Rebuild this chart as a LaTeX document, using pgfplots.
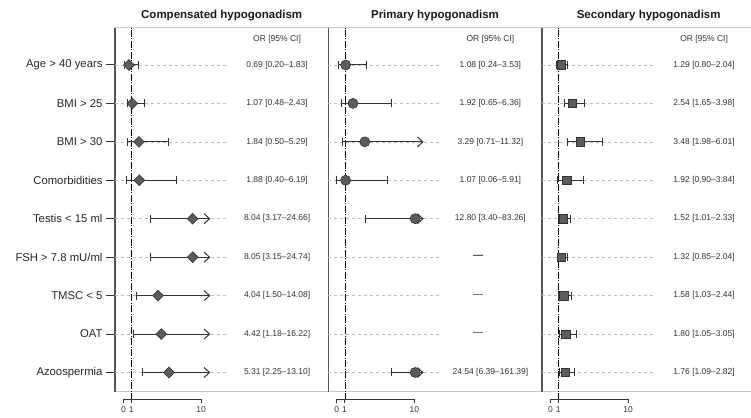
\documentclass[border=0pt]{standalone}
\usepackage{fontspec}
\setmainfont{Liberation Sans}
\usepackage{pgfplots}
\pgfplotsset{compat=1.18}
\usepackage{pgfplotstable}
\usetikzlibrary{arrows.meta}

\definecolor{mk}{HTML}{5C5C5C}
\definecolor{mkedge}{HTML}{333333}
\definecolor{ci}{HTML}{333333}
\definecolor{border}{HTML}{555555}
\definecolor{rowline}{HTML}{BDBDBD}
\definecolor{frame}{HTML}{C8C8C8}
\definecolor{txt}{HTML}{333333}

\pgfdeclareplotmark{chev}{%
  \pgfpathmoveto{\pgfpoint{-1.1\pgfplotmarksize}{\pgfplotmarksize}}%
  \pgfpathlineto{\pgfpoint{0pt}{0pt}}%
  \pgfpathlineto{\pgfpoint{-1.1\pgfplotmarksize}{-\pgfplotmarksize}}%
  \pgfusepathqstroke}

% Panel 1: Compensated hypogonadism
\pgfplotstableread{
y or lo hi
9 0.69 0.20 1.83
8 1.07 0.48 2.43
7 1.84 0.50 5.29
6 1.88 0.40 6.19
5 8.04 3.17 24.66
4 8.05 3.15 24.74
3 4.04 1.50 14.08
2 4.42 1.18 16.22
1 5.31 2.25 13.10
}\tabA
% Panel 2: Primary hypogonadism (rows 4,3,2 not estimable)
\pgfplotstableread{
y or lo hi
9 1.08 0.24 3.53
8 1.92 0.65 6.36
7 3.29 0.71 11.32
6 1.07 0.06 5.91
5 12.80 3.40 83.26
1 24.54 6.39 161.39
}\tabB
% Panel 3: Secondary hypogonadism
\pgfplotstableread{
y or lo hi
9 1.29 0.80 2.04
8 2.54 1.65 3.98
7 3.48 1.98 6.01
6 1.92 0.90 3.84
5 1.52 1.01 2.33
4 1.32 0.85 2.04
3 1.58 1.03 2.44
2 1.80 1.05 3.05
1 1.76 1.09 2.82
}\tabC

\pgfplotsset{
  panel/.style={scale only axis, width=213.4pt, height=364pt,
    xmin=-0.93, xmax=23.73, ymin=0.5, ymax=9.97,
    axis x line=none, axis y line=left,
    y axis line style={-, draw=border, line width=1.1pt},
    xtick=\empty, ytick=\empty, clip=false, anchor=south west},
  mini/.style={scale only axis, width=77.5pt, height=1pt,
    xmin=0, xmax=10, ymin=0, ymax=1,
    axis x line=bottom, axis y line=none,
    x axis line style={-, draw=black!80, line width=0.8pt},
    xtick={0,1,10}, ytick=\empty, tick align=outside, major tick length=4pt,
    xtick style={draw=black!80, line width=0.8pt},
    tick label style={font=\fontsize{8.5}{10}\selectfont, text=txt},
    /pgf/number format/assume math mode=true, anchor=south west},
}
\tikzset{
  ortext/.style={font=\fontsize{8.5}{10}\selectfont, text=txt},
  ttl/.style={font=\fontsize{11.5}{13}\selectfont\bfseries, text=black!90},
}

\newcommand\rowlines{%
  \pgfplotsinvokeforeach{1,...,9}{\draw[rowline, line width=0.6pt, dash pattern=on 3pt off 3pt] (axis cs:-0.93,##1) -- (axis cs:12,##1);}%
  \draw[black, line width=0.9pt, dash pattern=on 7pt off 1.5pt on 1pt off 1.5pt] (axis cs:1,0.284) -- (axis cs:1,9.97);%
}
\newcommand\ciplots[1]{%
  \addplot[draw=ci, line width=1pt, quiver={u={min(\thisrow{hi},10)-\thisrow{lo}}, v=0}] table[x=lo, y=y]{#1};
  \addplot[only marks, mark=|, mark size=4pt, mark options={draw=ci, line width=1pt}] table[x=lo, y=y]{#1};
  \addplot[only marks, mark=|, mark size=4pt, mark options={draw=ci, line width=1pt}, restrict x to domain=-5:50] table[x expr={\thisrow{hi}>10 ? 100 : \thisrow{hi}}, y=y]{#1};
  \addplot[only marks, mark=chev, mark size=5pt, mark options={draw=ci, line width=1pt, line join=miter}, restrict x to domain=-5:50] table[x expr={\thisrow{hi}>10 ? 10 : 100}, y=y]{#1};
}

\begin{document}
\begin{tikzpicture}
\useasboundingbox (0pt,0pt) rectangle (751pt,417pt);
\draw[frame, line width=0.8pt] (115pt,389.3pt) -- (751pt,389.3pt);
\draw[frame, line width=0.8pt] (115pt,25.3pt) -- (751pt,25.3pt);

% ---------- Panel 1 ----------
\begin{axis}[panel, at={(115pt,25.3pt)},
  ytick={1,...,9},
  yticklabels={Azoospermia, OAT, TMSC < 5, FSH > 7.8 mU/ml, Testis < 15 ml, Comorbidities, BMI > 30, BMI > 25, Age > 40 years},
  tick align=outside, major tick length=9pt,
  ytick style={draw=black!80, line width=1pt},
  yticklabel style={font=\fontsize{11.3}{13}\selectfont, text=black!85}]
\rowlines
\ciplots{\tabA}
\addplot[only marks, mark=square*, mark size=3.8pt, mark options={rotate=45, fill=mk, draw=mkedge, line width=0.6pt}] table[x=or, y=y]{\tabA};
\node[ttl] at (rel axis cs:0.5,1) [yshift=12.5pt] {Compensated hypogonadism};
\node[ortext] at (axis cs:17.8,9.67) {OR [95\% CI]};
\node[ortext] at (axis cs:17.8,9) {0.69 [0.20–1.83]};
\node[ortext] at (axis cs:17.8,8) {1.07 [0.48–2.43]};
\node[ortext] at (axis cs:17.8,7) {1.84 [0.50–5.29]};
\node[ortext] at (axis cs:17.8,6) {1.88 [0.40–6.19]};
\node[ortext] at (axis cs:17.8,5) {8.04 [3.17–24.66]};
\node[ortext] at (axis cs:17.8,4) {8.05 [3.15–24.74]};
\node[ortext] at (axis cs:17.8,3) {4.04 [1.50–14.08]};
\node[ortext] at (axis cs:17.8,2) {4.42 [1.18–16.22]};
\node[ortext] at (axis cs:17.8,1) {5.31 [2.25–13.10]};
\end{axis}
\begin{axis}[mini, at={(123.5pt,17.5pt)}]
\end{axis}

% ---------- Panel 2 ----------
\begin{axis}[panel, at={(328.3pt,25.3pt)}]
\rowlines
\ciplots{\tabB}
\addplot[only marks, mark=*, mark size=5pt, mark options={fill=mk, draw=mkedge, line width=0.6pt}] table[x expr={min(\thisrow{or},9.1)}, y=y]{\tabB};
\node[ttl] at (rel axis cs:0.5,1) [yshift=12.5pt] {Primary hypogonadism};
\node[ortext] at (axis cs:17.8,9.67) {OR [95\% CI]};
\node[ortext] at (axis cs:17.8,9) {1.08 [0.24–3.53]};
\node[ortext] at (axis cs:17.8,8) {1.92 [0.65–6.36]};
\node[ortext] at (axis cs:17.8,7) {3.29 [0.71–11.32]};
\node[ortext] at (axis cs:17.8,6) {1.07 [0.06–5.91]};
\node[ortext] at (axis cs:17.8,5) {12.80 [3.40–83.26]};
\node[ortext, font=\fontsize{10}{12}\selectfont\bfseries] at (axis cs:16.37,4) {—};
\node[ortext, font=\fontsize{10}{12}\selectfont] at (axis cs:16.37,3) {—};
\node[ortext, font=\fontsize{10}{12}\selectfont] at (axis cs:16.37,2) {—};
\node[ortext] at (axis cs:17.8,1) {24.54 [6.39–161.39]};
\end{axis}
\begin{axis}[mini, at={(336.8pt,17.5pt)}]
\end{axis}

% ---------- Panel 3 ----------
\begin{axis}[panel, at={(542pt,25.3pt)}, width=209pt, xmax=23.22]
\rowlines
\ciplots{\tabC}
\addplot[only marks, mark=square*, mark size=4.2pt, mark options={fill=mk, draw=mkedge, line width=0.6pt}] table[x=or, y=y]{\tabC};
\node[ttl] at (rel axis cs:0.5105,1) [yshift=12.5pt] {Secondary hypogonadism};
\node[ortext] at (axis cs:17.8,9.67) {OR [95\% CI]};
\node[ortext] at (axis cs:17.8,9) {1.29 [0.80–2.04]};
\node[ortext] at (axis cs:17.8,8) {2.54 [1.65–3.98]};
\node[ortext] at (axis cs:17.8,7) {3.48 [1.98–6.01]};
\node[ortext] at (axis cs:17.8,6) {1.92 [0.90–3.84]};
\node[ortext] at (axis cs:17.8,5) {1.52 [1.01–2.33]};
\node[ortext] at (axis cs:17.8,4) {1.32 [0.85–2.04]};
\node[ortext] at (axis cs:17.8,3) {1.58 [1.03–2.44]};
\node[ortext] at (axis cs:17.8,2) {1.80 [1.05–3.05]};
\node[ortext] at (axis cs:17.8,1) {1.76 [1.09–2.82]};
\end{axis}
\begin{axis}[mini, at={(550.5pt,17.5pt)}]
\end{axis}
\end{tikzpicture}
\end{document}
